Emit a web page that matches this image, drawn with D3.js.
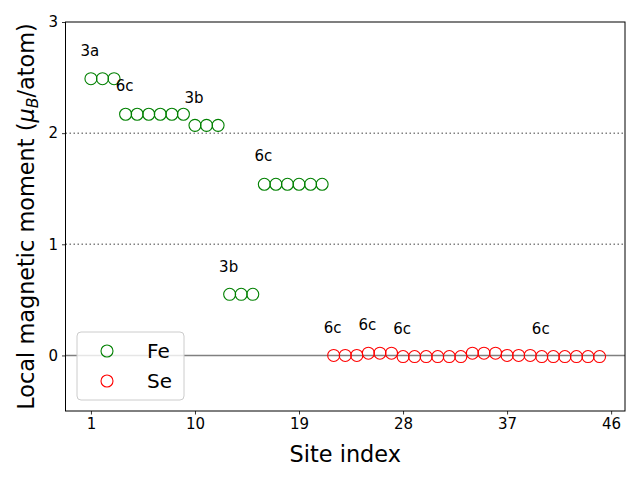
<!DOCTYPE html>
<html>
<head>
<meta charset="utf-8">
<script src="https://cdn.jsdelivr.net/npm/d3@7"></script>
<style>
  html, body { margin: 0; padding: 0; background: #fff; }
  svg { display: block; font-family: "DejaVu Sans", sans-serif; }
</style>
</head>
<body>
<svg id="chart" width="640" height="480"></svg>
<script>
// ---- data ----
const feSites  = [1,2,3,4,5,6,7,8,9,10,11,12,13,14,15,16,17,18,19,20,21];
const feValues = [2.49,2.49,2.49, 2.17,2.17,2.17,2.17,2.17,2.17, 2.07,2.07,2.07, 0.55,0.55,0.55, 1.54,1.54,1.54,1.54,1.54,1.54];
const seSites  = [22,23,24,25,26,27,28,29,30,31,32,33,34,35,36,37,38,39,40,41,42,43,44,45];
const seValues = [0.00,0.00,0.00, 0.02,0.02,0.02, -0.01,-0.01,-0.01,-0.01,-0.01,-0.01, 0.02,0.02,0.02, 0.00,0.00,0.00, -0.01,-0.01,-0.01,-0.01,-0.01,-0.01];
const labelTexts  = ["3a","6c","3b","3b","6c","6c","6c","6c","6c"];
const labelSites  = [1,4,10,13,16,22,25,28,40];
const labelValues = [2.49,2.17,2.07,0.55,1.54,0.00,0.02,-0.01,-0.01];
const xTicks = [1,10,19,28,37,46];
const yTicks = [0,1,2,3];
const refLines = [1,2];
const seriesNames = ["Fe","Se"];
const seriesColors = ["green","red"];

// ---- layout ----
const svg = d3.select("#chart");
const L = 65.5, R = 625, T = 22, B = 411;
const x = d3.scaleLinear().domain([-1.2, 47.2]).range([L, R]);
const y = d3.scaleLinear().domain([-0.5, 3]).range([B, T]);

// reference lines
svg.selectAll("line.ref").data(refLines).enter().append("line")
  .attr("x1", L).attr("x2", R)
  .attr("y1", d => y(d)).attr("y2", d => y(d))
  .attr("stroke", "#808080").attr("stroke-width", 1.5)
  .attr("stroke-dasharray", "1.5,2.5");
svg.append("line")
  .attr("x1", L).attr("x2", R).attr("y1", y(0)).attr("y2", y(0))
  .attr("stroke", "#808080").attr("stroke-width", 1.5);

// points
const r = 6;
svg.append("g").selectAll("circle").data(feSites).enter().append("circle")
  .attr("cx", d => x(d)).attr("cy", (d, i) => y(feValues[i])).attr("r", r)
  .attr("fill", "none").attr("stroke", seriesColors[0]).attr("stroke-width", 1.1);
svg.append("g").selectAll("circle").data(seSites).enter().append("circle")
  .attr("cx", d => x(d)).attr("cy", (d, i) => y(seValues[i])).attr("r", r)
  .attr("fill", "none").attr("stroke", seriesColors[1]).attr("stroke-width", 1.1);

// labels
svg.append("g").selectAll("text").data(labelTexts).enter().append("text")
  .attr("x", (d, i) => x(labelSites[i]) - 1)
  .attr("y", (d, i) => y(labelValues[i] + 0.25))
  .attr("text-anchor", "middle").attr("dominant-baseline", "central")
  .attr("font-size", "15px").attr("fill", "#000").text(d => d);

// axes
const xAxis = d3.axisBottom(x).tickValues(xTicks).tickSize(3.5).tickPadding(4).tickFormat(d3.format("d"));
const yAxis = d3.axisLeft(y).tickValues(yTicks).tickSize(3.5).tickPadding(4).tickFormat(d3.format("d"));
const gx = svg.append("g").attr("transform", `translate(0,${B})`).call(xAxis);
const gy = svg.append("g").attr("transform", `translate(${L},0)`).call(yAxis);
[gx, gy].forEach(g => {
  g.select(".domain").remove();
  g.selectAll("text").attr("font-size", "15px").attr("font-family", "DejaVu Sans").attr("fill", "#000");
  g.selectAll("line").attr("stroke", "#000").attr("stroke-width", 0.8);
});

// frame
svg.append("rect").attr("x", L).attr("y", T).attr("width", R - L).attr("height", B - T)
  .attr("fill", "none").attr("stroke", "#000").attr("stroke-width", 1);

// axis labels
svg.append("text").attr("x", (L + R) / 2).attr("y", 462)
  .attr("text-anchor", "middle").attr("font-size", "22.4px").attr("fill", "#000")
  .text("Site index");
const yl = svg.append("text")
  .attr("transform", `translate(33.5,${(T + B) / 2}) rotate(-90)`)
  .attr("text-anchor", "middle").attr("font-size", "22.4px").attr("fill", "#000");
yl.append("tspan").text("Local magnetic moment (");
yl.append("tspan").attr("font-style", "italic").text("μ");
yl.append("tspan").attr("font-style", "italic").attr("font-size", "15.7px").attr("dy", "4").text("B");
yl.append("tspan").attr("dy", "-4").text("/atom)");

// legend
const lg = svg.append("g");
lg.append("rect").attr("x", 77).attr("y", 332).attr("width", 107).attr("height", 68)
  .attr("rx", 4).attr("fill", "#fff").attr("fill-opacity", 0.8)
  .attr("stroke", "#cccccc").attr("stroke-width", 1);
seriesNames.forEach((name, i) => {
  const cy = 351 + i * 30;
  lg.append("circle").attr("cx", 107).attr("cy", cy).attr("r", r)
    .attr("fill", "none").attr("stroke", seriesColors[i]).attr("stroke-width", 1.1);
  lg.append("text").attr("x", 147).attr("y", cy).attr("dominant-baseline", "central")
    .attr("font-size", "20px").attr("fill", "#000").text(name);
});
</script>
</body>
</html>
